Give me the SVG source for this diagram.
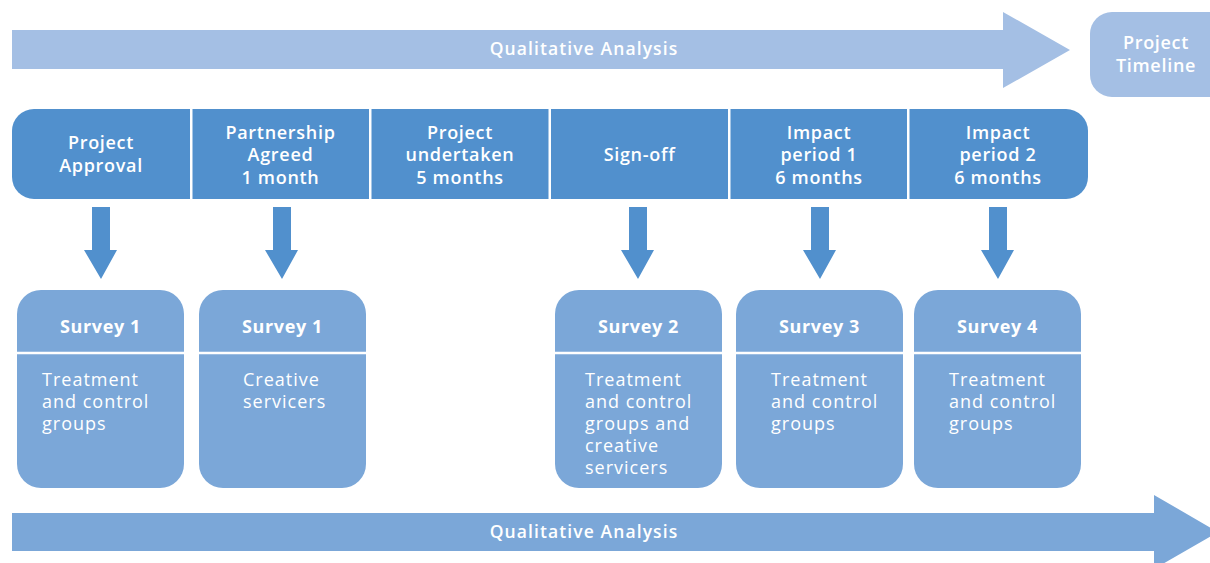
<svg xmlns="http://www.w3.org/2000/svg" width="1210" height="563" viewBox="0 0 1210 563">
  <defs>
    <style>
      .phase { fill: #5190cd; }
      .survey { fill: #7ba7d8; }
      .pale { fill: #a4bfe4; }
      .flow { fill: #5190cd; }
      .sep { stroke: #ffffff; stroke-width: 2.5; }
      text { fill: #ffffff; font-family: "Open Sans", "Liberation Sans", sans-serif; }
      .hd { font-size: 18px; font-weight: 600; text-anchor: middle; letter-spacing: 0.7px; }
      .band { font-size: 17.5px; font-weight: 600; text-anchor: middle; letter-spacing: 1.1px; }
      .st { font-size: 18px; font-weight: 700; text-anchor: middle; letter-spacing: 0.6px; }
      .body { font-size: 18px; font-weight: 400; letter-spacing: 1px; }
    </style>
  </defs>

  <!-- upper analysis band -->
  <g id="qualitative-top">
    <polygon class="pale" points="12,30 1003,30 1003,12 1070,50 1003,88 1003,69 12,69"/>
    <text class="band" x="584" y="55">Qualitative Analysis</text>
  </g>

  <g id="project-timeline">
    <path class="pale" d="M1112,12 H1220 V97 H1112 A22,22 0 0 1 1090,75 V34 A22,22 0 0 1 1112,12 Z"/>
    <text class="hd" x="1156" y="49">Project</text>
    <text class="hd" x="1156" y="72">Timeline</text>
  </g>

  <!-- phase row -->
  <g id="phase-approval">
    <path class="phase" d="M34,109 H190 V199 H34 A22,22 0 0 1 12,177 V131 A22,22 0 0 1 34,109 Z"/>
    <text class="hd" x="101" y="149">Project</text>
    <text class="hd" x="101" y="172">Approval</text>
  </g>
  <g id="phase-partnership">
    <rect class="phase" x="192.5" y="109" width="176.5" height="90"/>
    <text class="hd" x="280.5" y="139">Partnership</text>
    <text class="hd" x="280.5" y="161">Agreed</text>
    <text class="hd" x="280.5" y="184">1 month</text>
  </g>
  <g id="phase-undertaken">
    <rect class="phase" x="371.5" y="109" width="177" height="90"/>
    <text class="hd" x="460" y="139">Project</text>
    <text class="hd" x="460" y="161">undertaken</text>
    <text class="hd" x="460" y="184">5 months</text>
  </g>
  <g id="phase-signoff">
    <rect class="phase" x="551" y="109" width="177" height="90"/>
    <text class="hd" x="639.5" y="161">Sign-off</text>
  </g>
  <g id="phase-impact1">
    <rect class="phase" x="730.5" y="109" width="176.5" height="90"/>
    <text class="hd" x="819" y="139">Impact</text>
    <text class="hd" x="819" y="161">period 1</text>
    <text class="hd" x="819" y="184">6 months</text>
  </g>
  <g id="phase-impact2">
    <path class="phase" d="M909.5,109 H1066 A22,22 0 0 1 1088,131 V177 A22,22 0 0 1 1066,199 H909.5 Z"/>
    <text class="hd" x="998" y="139">Impact</text>
    <text class="hd" x="998" y="161">period 2</text>
    <text class="hd" x="998" y="184">6 months</text>
  </g>

  <!-- downward arrows from phases to surveys -->
  <g id="connectors">
    <polygon class="flow" points="92,207 110,207 110,250 117,250 101,279 84,250 92,250"/>
    <polygon class="flow" points="273,207 291,207 291,250 298,250 282,279 265,250 273,250"/>
    <polygon class="flow" points="629,207 647,207 647,250 654,250 638,279 621,250 629,250"/>
    <polygon class="flow" points="811,207 829,207 829,250 836,250 820,279 803,250 811,250"/>
    <polygon class="flow" points="989,207 1007,207 1007,250 1014,250 998,279 981,250 989,250"/>
  </g>

  <!-- survey cards -->
  <g id="survey-1-groups">
    <rect class="survey" x="17" y="290" width="167" height="198" rx="24"/>
    <line class="sep" x1="17" y1="353" x2="184" y2="353"/>
    <text class="st" x="100.5" y="333">Survey 1</text>
    <text class="body" x="42" y="386">Treatment</text>
    <text class="body" x="42" y="408">and control</text>
    <text class="body" x="42" y="430">groups</text>
  </g>
  <g id="survey-1-creative">
    <rect class="survey" x="199" y="290" width="167" height="198" rx="24"/>
    <line class="sep" x1="199" y1="353" x2="366" y2="353"/>
    <text class="st" x="282.5" y="333">Survey 1</text>
    <text class="body" x="243" y="386">Creative</text>
    <text class="body" x="243" y="408">servicers</text>
  </g>
  <g id="survey-2">
    <rect class="survey" x="555" y="290" width="167" height="198" rx="24"/>
    <line class="sep" x1="555" y1="353" x2="722" y2="353"/>
    <text class="st" x="638.5" y="333">Survey 2</text>
    <text class="body" x="585" y="386">Treatment</text>
    <text class="body" x="585" y="408">and control</text>
    <text class="body" x="585" y="430">groups and</text>
    <text class="body" x="585" y="452">creative</text>
    <text class="body" x="585" y="474">servicers</text>
  </g>
  <g id="survey-3">
    <rect class="survey" x="736" y="290" width="167" height="198" rx="24"/>
    <line class="sep" x1="736" y1="353" x2="903" y2="353"/>
    <text class="st" x="819.5" y="333">Survey 3</text>
    <text class="body" x="771" y="386">Treatment</text>
    <text class="body" x="771" y="408">and control</text>
    <text class="body" x="771" y="430">groups</text>
  </g>
  <g id="survey-4">
    <rect class="survey" x="914" y="290" width="167" height="198" rx="24"/>
    <line class="sep" x1="914" y1="353" x2="1081" y2="353"/>
    <text class="st" x="997.5" y="333">Survey 4</text>
    <text class="body" x="949" y="386">Treatment</text>
    <text class="body" x="949" y="408">and control</text>
    <text class="body" x="949" y="430">groups</text>
  </g>

  <!-- lower analysis band -->
  <g id="qualitative-bottom">
    <polygon class="survey" points="12,513 1154,513 1154,495 1218,532 1154,569 1154,551 12,551"/>
    <text class="band" x="584" y="538">Qualitative Analysis</text>
  </g>
</svg>
